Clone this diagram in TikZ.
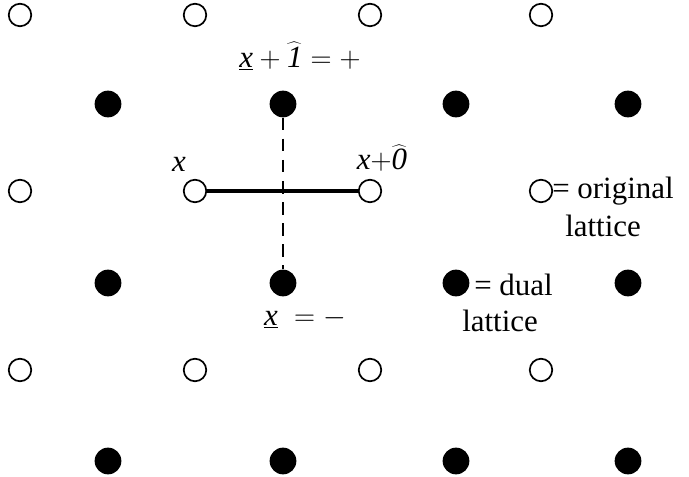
\documentclass[tikz,border=0pt]{standalone}
\usepackage{fontspec}
\setmainfont{Liberation Serif}
\usepackage{tikz}
\usetikzlibrary{positioning}

\begin{document}
\begin{tikzpicture}[x=0.025cm,y=-0.025cm,font=\fontsize{22}{26}\selectfont]
\useasboundingbox (0,0) rectangle (689,477);
% original lattice (open) and dual lattice (filled)
\foreach \i/\x in {0/20,1/195,2/370,3/541} {
  \foreach \j/\y in {0/15,1/191,2/370} {
    \node[circle,draw=black,line width=1.2pt,fill=white,inner sep=0pt,minimum size=16] (o-\i-\j) at (\x,\y) {};
  }
}
\foreach \i/\x in {0/108,1/283,2/456,3/628} {
  \foreach \j/\y in {0/104,1/283,2/461} {
    \node[circle,fill=black,inner sep=0pt,minimum size=19] (d-\i-\j) at (\x,\y) {};
  }
}
\draw[line width=3.5pt] (o-1-1) -- (o-2-1);
\draw[dash pattern=on 9pt off 6pt,line width=0.8pt] (d-1-0) -- (d-1-1);
% labels
\node (lx) at (179,164) {$\mathit{x}$};
\node (lx0) at (382,158) {$\mathit{x}{+}\widehat{\mathit{0}}$};
\node (lup) at (300,56) {$\underline{\mathit{x}}+\widehat{\mathit{1}}=+$};
\node (ldown) at (305,318) {$\underline{\mathit{x}}\;=-$};
% legend
\node[anchor=west,inner sep=0pt] (lorig) at (552,191) {= original};
\node[anchor=west,inner sep=0pt] (lorig2) at (565,226) {lattice};
\node[anchor=west,inner sep=0pt] (ldual) at (474,285) {= dual};
\node[anchor=west,inner sep=0pt] (ldual2) at (462,321) {lattice};
\end{tikzpicture}
\end{document}
